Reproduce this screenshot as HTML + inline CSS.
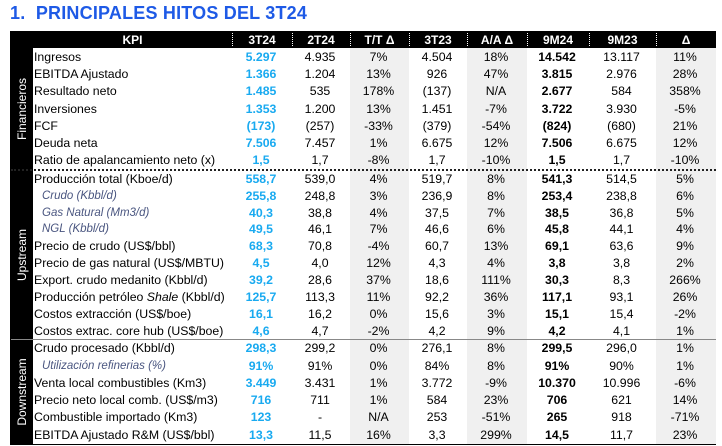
<!DOCTYPE html>
<html><head><meta charset="utf-8"><style>
*{margin:0;padding:0;box-sizing:border-box}
body{width:722px;height:446px;background:#fff;font-family:"Liberation Sans",Arial,sans-serif;position:relative;overflow:hidden}
.title{position:absolute;left:10px;top:3px;font-size:18px;font-weight:bold;color:#1e5ae6;letter-spacing:0.2px}
.tbl{position:absolute;left:10px;top:31px;width:706px;height:414px;border:1px solid #000;border-top:none}
.gray{position:absolute;top:17px;bottom:0;background:#f0f0f0}
.hdr{position:absolute;left:0;top:0;width:705px;height:17px;background:#000;color:#fff;font-weight:bold;font-size:12px}
.hdr span{position:absolute;top:2px;text-align:center}
.hdr i{position:absolute;top:2px;height:13px;border-left:1px dotted #fff}
.side{position:absolute;left:0;width:22px;background:#000;color:#fff;font-size:12px}
.side span{position:absolute;left:50%;top:50%;transform:translate(-50%,-50%) rotate(-90deg);white-space:nowrap}
.row{position:absolute;left:22px;width:683px;height:17.2px;font-size:12.3px;line-height:17.2px;color:#000}
.row span{position:absolute;top:0;text-align:center}
.row .l{left:2px;text-align:left;white-space:nowrap}
.row.sub .l{left:10px;font-style:italic;color:#4a5680;font-size:11.5px}
.b{color:#19aaf0;font-weight:bold}
.k{font-weight:bold}
.sep{position:absolute;left:0;width:705px;border-top:2px dotted #222}
.sep2{position:absolute;left:0;width:705px;border-top:1px solid #888}
</style></head><body>
<div class="title">1.&nbsp;&nbsp;PRINCIPALES HITOS DEL 3T24</div>
<div class="tbl">
<div class="gray" style="left:339px;width:59px"></div>
<div class="gray" style="left:456px;width:60px"></div>
<div class="gray" style="left:645px;width:60px"></div>
<div class="hdr">
<span style="left:22px;width:199px">KPI</span>
<i style="left:221px"></i><span style="left:221px;width:60px">3T24</span>
<i style="left:281px"></i><span style="left:281px;width:58px">2T24</span>
<i style="left:339px"></i><span style="left:339px;width:59px">T/T Δ</span>
<i style="left:398px"></i><span style="left:398px;width:58px">3T23</span>
<i style="left:456px"></i><span style="left:456px;width:60px">A/A Δ</span>
<i style="left:516px"></i><span style="left:516px;width:62px">9M24</span>
<i style="left:578px"></i><span style="left:578px;width:67px">9M23</span>
<i style="left:645px"></i><span style="left:645px;width:60px">Δ</span>
</div>
<div class="side" style="top:17px;height:122px"><span>Financieros</span></div>
<div class="side" style="top:139px;height:169px"><span>Upstream</span></div>
<div class="side" style="top:308px;height:106px"><span>Downstream</span></div>
<div class="sep" style="top:138px"></div>
<div class="sep2" style="top:308px"></div>
<div id="rows"></div>
</div>
<div style="position:absolute;left:0;top:0">
</div>
<script></script>
<div class="tbl" style="border:none">
<!-- rows -->
<div class="row" style="top:18px"><span class="l">Ingresos</span><span class="b" style="left:199px;width:60px">5.297</span><span style="left:259px;width:58px">4.935</span><span style="left:317px;width:59px">7%</span><span style="left:376px;width:58px">4.504</span><span style="left:434px;width:60px">18%</span><span class="k" style="left:494px;width:62px">14.542</span><span style="left:556px;width:67px">13.117</span><span style="left:623px;width:60px">11%</span></div>
<div class="row" style="top:35.2px"><span class="l">EBITDA Ajustado</span><span class="b" style="left:199px;width:60px">1.366</span><span style="left:259px;width:58px">1.204</span><span style="left:317px;width:59px">13%</span><span style="left:376px;width:58px">926</span><span style="left:434px;width:60px">47%</span><span class="k" style="left:494px;width:62px">3.815</span><span style="left:556px;width:67px">2.976</span><span style="left:623px;width:60px">28%</span></div>
<div class="row" style="top:52.4px"><span class="l">Resultado neto</span><span class="b" style="left:199px;width:60px">1.485</span><span style="left:259px;width:58px">535</span><span style="left:317px;width:59px">178%</span><span style="left:376px;width:58px">(137)</span><span style="left:434px;width:60px">N/A</span><span class="k" style="left:494px;width:62px">2.677</span><span style="left:556px;width:67px">584</span><span style="left:623px;width:60px">358%</span></div>
<div class="row" style="top:69.6px"><span class="l">Inversiones</span><span class="b" style="left:199px;width:60px">1.353</span><span style="left:259px;width:58px">1.200</span><span style="left:317px;width:59px">13%</span><span style="left:376px;width:58px">1.451</span><span style="left:434px;width:60px">-7%</span><span class="k" style="left:494px;width:62px">3.722</span><span style="left:556px;width:67px">3.930</span><span style="left:623px;width:60px">-5%</span></div>
<div class="row" style="top:86.8px"><span class="l">FCF</span><span class="b" style="left:199px;width:60px">(173)</span><span style="left:259px;width:58px">(257)</span><span style="left:317px;width:59px">-33%</span><span style="left:376px;width:58px">(379)</span><span style="left:434px;width:60px">-54%</span><span class="k" style="left:494px;width:62px">(824)</span><span style="left:556px;width:67px">(680)</span><span style="left:623px;width:60px">21%</span></div>
<div class="row" style="top:104px"><span class="l">Deuda neta</span><span class="b" style="left:199px;width:60px">7.506</span><span style="left:259px;width:58px">7.457</span><span style="left:317px;width:59px">1%</span><span style="left:376px;width:58px">6.675</span><span style="left:434px;width:60px">12%</span><span class="k" style="left:494px;width:62px">7.506</span><span style="left:556px;width:67px">6.675</span><span style="left:623px;width:60px">12%</span></div>
<div class="row" style="top:121.2px"><span class="l">Ratio de apalancamiento neto (x)</span><span class="b" style="left:199px;width:60px">1,5</span><span style="left:259px;width:58px">1,7</span><span style="left:317px;width:59px">-8%</span><span style="left:376px;width:58px">1,7</span><span style="left:434px;width:60px">-10%</span><span class="k" style="left:494px;width:62px">1,5</span><span style="left:556px;width:67px">1,7</span><span style="left:623px;width:60px">-10%</span></div>
<div class="row" style="top:140px"><span class="l">Producción total (Kboe/d)</span><span class="b" style="left:199px;width:60px">558,7</span><span style="left:259px;width:58px">539,0</span><span style="left:317px;width:59px">4%</span><span style="left:376px;width:58px">519,7</span><span style="left:434px;width:60px">8%</span><span class="k" style="left:494px;width:62px">541,3</span><span style="left:556px;width:67px">514,5</span><span style="left:623px;width:60px">5%</span></div>
<div class="row sub" style="top:157px"><span class="l">Crudo (Kbbl/d)</span><span class="b" style="left:199px;width:60px">255,8</span><span style="left:259px;width:58px">248,8</span><span style="left:317px;width:59px">3%</span><span style="left:376px;width:58px">236,9</span><span style="left:434px;width:60px">8%</span><span class="k" style="left:494px;width:62px">253,4</span><span style="left:556px;width:67px">238,8</span><span style="left:623px;width:60px">6%</span></div>
<div class="row sub" style="top:174px"><span class="l">Gas Natural (Mm3/d)</span><span class="b" style="left:199px;width:60px">40,3</span><span style="left:259px;width:58px">38,8</span><span style="left:317px;width:59px">4%</span><span style="left:376px;width:58px">37,5</span><span style="left:434px;width:60px">7%</span><span class="k" style="left:494px;width:62px">38,5</span><span style="left:556px;width:67px">36,8</span><span style="left:623px;width:60px">5%</span></div>
<div class="row sub" style="top:190px"><span class="l">NGL (Kbbl/d)</span><span class="b" style="left:199px;width:60px">49,5</span><span style="left:259px;width:58px">46,1</span><span style="left:317px;width:59px">7%</span><span style="left:376px;width:58px">46,6</span><span style="left:434px;width:60px">6%</span><span class="k" style="left:494px;width:62px">45,8</span><span style="left:556px;width:67px">44,1</span><span style="left:623px;width:60px">4%</span></div>
<div class="row" style="top:207px"><span class="l">Precio de crudo (US$/bbl)</span><span class="b" style="left:199px;width:60px">68,3</span><span style="left:259px;width:58px">70,8</span><span style="left:317px;width:59px">-4%</span><span style="left:376px;width:58px">60,7</span><span style="left:434px;width:60px">13%</span><span class="k" style="left:494px;width:62px">69,1</span><span style="left:556px;width:67px">63,6</span><span style="left:623px;width:60px">9%</span></div>
<div class="row" style="top:224px"><span class="l">Precio de gas natural (US$/MBTU)</span><span class="b" style="left:199px;width:60px">4,5</span><span style="left:259px;width:58px">4,0</span><span style="left:317px;width:59px">12%</span><span style="left:376px;width:58px">4,3</span><span style="left:434px;width:60px">4%</span><span class="k" style="left:494px;width:62px">3,8</span><span style="left:556px;width:67px">3,8</span><span style="left:623px;width:60px">2%</span></div>
<div class="row" style="top:241px"><span class="l">Export. crudo medanito (Kbbl/d)</span><span class="b" style="left:199px;width:60px">39,2</span><span style="left:259px;width:58px">28,6</span><span style="left:317px;width:59px">37%</span><span style="left:376px;width:58px">18,6</span><span style="left:434px;width:60px">111%</span><span class="k" style="left:494px;width:62px">30,3</span><span style="left:556px;width:67px">8,3</span><span style="left:623px;width:60px">266%</span></div>
<div class="row" style="top:258px"><span class="l">Producción petróleo <i>Shale</i> (Kbbl/d)</span><span class="b" style="left:199px;width:60px">125,7</span><span style="left:259px;width:58px">113,3</span><span style="left:317px;width:59px">11%</span><span style="left:376px;width:58px">92,2</span><span style="left:434px;width:60px">36%</span><span class="k" style="left:494px;width:62px">117,1</span><span style="left:556px;width:67px">93,1</span><span style="left:623px;width:60px">26%</span></div>
<div class="row" style="top:275px"><span class="l">Costos extracción (US$/boe)</span><span class="b" style="left:199px;width:60px">16,1</span><span style="left:259px;width:58px">16,2</span><span style="left:317px;width:59px">0%</span><span style="left:376px;width:58px">15,6</span><span style="left:434px;width:60px">3%</span><span class="k" style="left:494px;width:62px">15,1</span><span style="left:556px;width:67px">15,4</span><span style="left:623px;width:60px">-2%</span></div>
<div class="row" style="top:292px"><span class="l">Costos extrac. core hub (US$/boe)</span><span class="b" style="left:199px;width:60px">4,6</span><span style="left:259px;width:58px">4,7</span><span style="left:317px;width:59px">-2%</span><span style="left:376px;width:58px">4,2</span><span style="left:434px;width:60px">9%</span><span class="k" style="left:494px;width:62px">4,2</span><span style="left:556px;width:67px">4,1</span><span style="left:623px;width:60px">1%</span></div>
<div class="row" style="top:309px"><span class="l">Crudo procesado (Kbbl/d)</span><span class="b" style="left:199px;width:60px">298,3</span><span style="left:259px;width:58px">299,2</span><span style="left:317px;width:59px">0%</span><span style="left:376px;width:58px">276,1</span><span style="left:434px;width:60px">8%</span><span class="k" style="left:494px;width:62px">299,5</span><span style="left:556px;width:67px">296,0</span><span style="left:623px;width:60px">1%</span></div>
<div class="row sub" style="top:327px"><span class="l">Utilización refinerias (%)</span><span class="b" style="left:199px;width:60px">91%</span><span style="left:259px;width:58px">91%</span><span style="left:317px;width:59px">0%</span><span style="left:376px;width:58px">84%</span><span style="left:434px;width:60px">8%</span><span class="k" style="left:494px;width:62px">91%</span><span style="left:556px;width:67px">90%</span><span style="left:623px;width:60px">1%</span></div>
<div class="row" style="top:344px"><span class="l">Venta local combustibles (Km3)</span><span class="b" style="left:199px;width:60px">3.449</span><span style="left:259px;width:58px">3.431</span><span style="left:317px;width:59px">1%</span><span style="left:376px;width:58px">3.772</span><span style="left:434px;width:60px">-9%</span><span class="k" style="left:494px;width:62px">10.370</span><span style="left:556px;width:67px">10.996</span><span style="left:623px;width:60px">-6%</span></div>
<div class="row" style="top:361px"><span class="l">Precio neto local comb. (US$/m3)</span><span class="b" style="left:199px;width:60px">716</span><span style="left:259px;width:58px">711</span><span style="left:317px;width:59px">1%</span><span style="left:376px;width:58px">584</span><span style="left:434px;width:60px">23%</span><span class="k" style="left:494px;width:62px">706</span><span style="left:556px;width:67px">621</span><span style="left:623px;width:60px">14%</span></div>
<div class="row" style="top:378px"><span class="l">Combustible importado (Km3)</span><span class="b" style="left:199px;width:60px">123</span><span style="left:259px;width:58px">-</span><span style="left:317px;width:59px">N/A</span><span style="left:376px;width:58px">253</span><span style="left:434px;width:60px">-51%</span><span class="k" style="left:494px;width:62px">265</span><span style="left:556px;width:67px">918</span><span style="left:623px;width:60px">-71%</span></div>
<div class="row" style="top:396px"><span class="l">EBITDA Ajustado R&amp;M (US$/bbl)</span><span class="b" style="left:199px;width:60px">13,3</span><span style="left:259px;width:58px">11,5</span><span style="left:317px;width:59px">16%</span><span style="left:376px;width:58px">3,3</span><span style="left:434px;width:60px">299%</span><span class="k" style="left:494px;width:62px">14,5</span><span style="left:556px;width:67px">11,7</span><span style="left:623px;width:60px">23%</span></div>
</div>
</body></html>
